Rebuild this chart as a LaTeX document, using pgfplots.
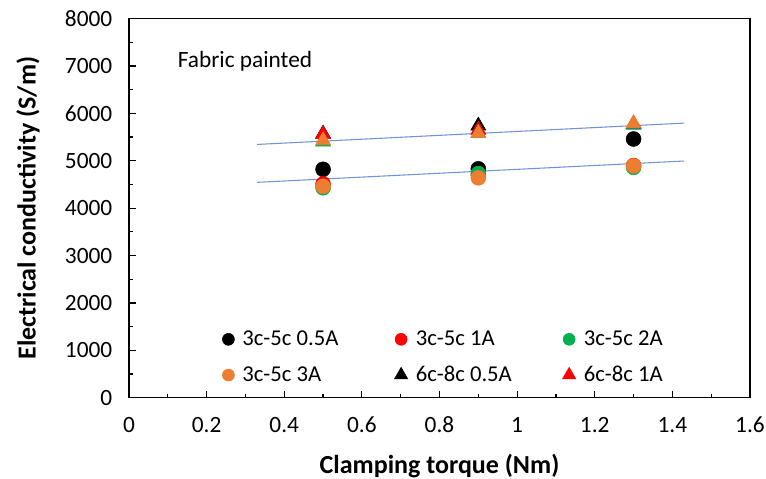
\documentclass[border=0pt]{standalone}
\usepackage{fontspec}
\setmainfont{Carlito}
\usepackage{pgfplots}
\pgfplotsset{compat=1.18}
\definecolor{xlred}{RGB}{255,0,0}
\definecolor{xlgreen}{RGB}{0,176,80}
\definecolor{xlorange}{RGB}{237,125,49}
\definecolor{xlblue}{RGB}{114,147,212}
\pgfplotsset{trileg/.style={legend image code/.code={\draw[##1, mark size=5.8pt] plot coordinates {(0.1cm,0cm)};}}}
\begin{document}
\begin{tikzpicture}
\begin{axis}[
  name=ax,
  scale only axis,
  width=465.75pt, height=284.25pt,
  xmin=0, xmax=1.6, ymin=0, ymax=8000,
  xtick={0,0.2,...,1.6},
  xticklabels={0,0.2,0.4,0.6,0.8,1,1.2,1.4,1.6},
  ytick={0,1000,...,8000},
  minor x tick num=1, minor y tick num=1,
  tick align=inside,
  xtick pos=bottom, ytick pos=left,
  major tick length=5pt, minor tick length=3pt,
  tick style={black, line width=0.9pt},
  axis line style={black, line width=1.1pt},
  /pgf/number format/assume math mode=true,
  scaled y ticks=false,
  yticklabel style={/pgf/number format/1000 sep={}, font=\fontsize{17.5}{20}\selectfont, xshift=-9pt},
  xticklabel style={font=\fontsize{17.5}{20}\selectfont, yshift=-11pt},
  xlabel={\textbf{Clamping torque (Nm)}},
  ylabel={\textbf{Electrical conductivity (S/m)}},
  label style={font=\fontsize{19.5}{22}\selectfont},
  xlabel style={yshift=-9pt},
  ylabel style={yshift=12pt},
  legend columns=3,
  legend style={draw=none, fill=none, at={(axis cs:0.24,850)}, anchor=west,
    font=\fontsize{17}{20}\selectfont, row sep=10pt, inner sep=0pt,
    /tikz/every odd column/.append style={column sep=4pt}},
  legend cell align=left,
  legend image code/.code={\draw[#1, mark size=4.5pt] plot coordinates {(0.1cm,0cm)};},
]
% trend lines
\addplot[xlblue, line width=0.8pt, forget plot] coordinates {(0.33,4545) (1.43,4995)};
\addplot[xlblue, line width=0.8pt, forget plot] coordinates {(0.33,5345) (1.43,5795)};
% 3c-5c series
\addplot[only marks, mark=*, mark size=5.6pt, black, mark options={fill=black}] coordinates {(0.5,4820) (0.9,4830) (1.3,5460)};
\addlegendentry{\makebox[112pt][l]{3c-5c 0.5A}}
\addplot[only marks, mark=*, mark size=5.6pt, xlred, mark options={fill=xlred}] coordinates {(0.5,4510) (0.9,4700) (1.3,4900)};
\addlegendentry{\makebox[108pt][l]{3c-5c 1A}}
\addplot[only marks, mark=*, mark size=5.6pt, xlgreen, mark options={fill=xlgreen}] coordinates {(0.5,4430) (0.9,4730) (1.3,4860)};
\addlegendentry{3c-5c 2A}
\addplot[only marks, mark=*, mark size=5.6pt, xlorange, mark options={fill=xlorange}] coordinates {(0.5,4460) (0.9,4640) (1.3,4890)};
\addlegendentry{\makebox[112pt][l]{3c-5c 3A}}
% 6c-8c series
\addplot[only marks, mark=triangle*, mark size=6.5pt, black, mark options={fill=black}, trileg] coordinates {(0.5,5570) (0.9,5740) (1.3,5760)};
\addlegendentry{\makebox[108pt][l]{6c-8c 0.5A}}
\addplot[only marks, mark=triangle*, mark size=6.5pt, xlred, mark options={fill=xlred}, trileg] coordinates {(0.5,5560) (0.9,5650) (1.3,5780)};
\addlegendentry{6c-8c 1A}
\addplot[only marks, mark=triangle*, mark size=6.5pt, xlgreen, mark options={fill=xlgreen}, forget plot] coordinates {(0.5,5400) (0.9,5580) (1.3,5770)};
\addplot[only marks, mark=triangle*, mark size=6.5pt, xlorange, mark options={fill=xlorange}, forget plot] coordinates {(0.5,5430) (0.9,5580) (1.3,5790)};
\node[anchor=west, font=\fontsize{17.5}{20}\selectfont, inner sep=0pt] at (axis cs:0.125,7100) {Fabric painted};
\end{axis}
\pgfresetboundingbox
\path[use as bounding box] ([shift={(-96.75pt,-60.75pt)}]ax.south west) rectangle ([shift={(12pt,14pt)}]ax.north east);
\end{tikzpicture}
\end{document}
